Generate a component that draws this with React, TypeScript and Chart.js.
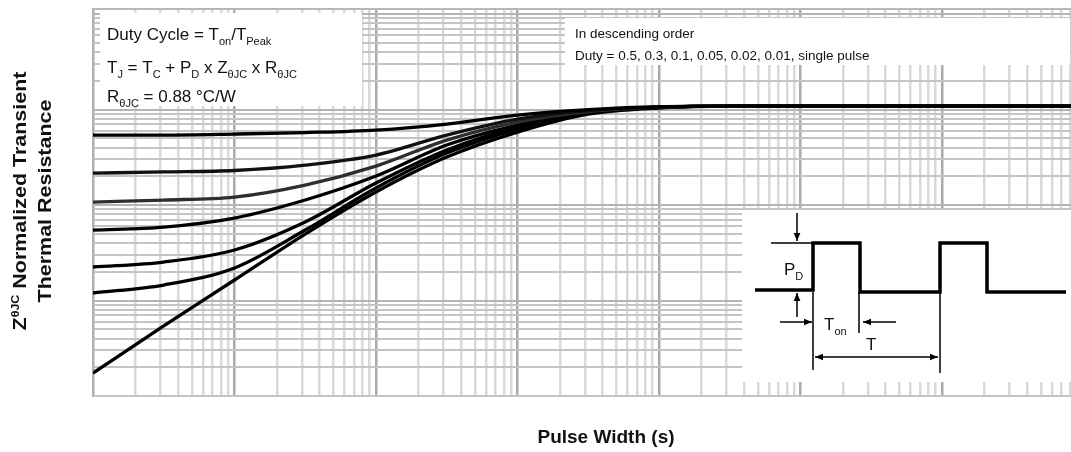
import React, { useEffect, useRef } from "react";
import { Chart, registerables } from "chart.js";

Chart.register(...registerables);

// ---- Data ----
const pulseWidth = [1e-6, 3.16e-6, 1e-5, 3.16e-5, 1e-4, 3.16e-4, 1e-3, 3.16e-3, 1e-2, 3.16e-2, 1e-1, 1, 10];
const duty05 = [0.541, 0.541, 0.554, 0.574, 0.61, 0.705, 0.876, 1.0, 1.075, 1.088, 1.088, 1.088, 1.088];
const duty03 = [0.216, 0.222, 0.23, 0.262, 0.334, 0.541, 0.795, 0.976, 1.062, 1.088, 1.088, 1.088, 1.088];
const duty01 = [0.1075, 0.1128, 0.1213, 0.162, 0.256, 0.479, 0.74, 0.953, 1.062, 1.088, 1.088, 1.088, 1.088];
const duty005 = [0.0547, 0.0588, 0.0731, 0.1128, 0.201, 0.425, 0.688, 0.941, 1.05, 1.088, 1.088, 1.088, 1.088];
const duty002 = [0.02243, 0.0253, 0.0338, 0.0664, 0.17, 0.377, 0.656, 0.93, 1.05, 1.088, 1.088, 1.088, 1.088];
const duty001 = [0.01198, 0.01453, 0.0219, 0.0547, 0.151, 0.35, 0.625, 0.919, 1.05, 1.088, 1.088, 1.088, 1.088];
const singlePulse = [0.00174, 0.00541, 0.0164, 0.0497, 0.137, 0.318, 0.581, 0.897, 1.04, 1.088, 1.088, 1.088, 1.088];

const seriesNames = ["0.5", "0.3", "0.1", "0.05", "0.02", "0.01", "single pulse"];
const seriesValues = [duty05, duty03, duty01, duty005, duty002, duty001, singlePulse];
const seriesColors = ["#000000", "#111111", "#2e2e2e", "#000000", "#000000", "#000000", "#000000"];

const xDecades = [1e-6, 1e-5, 1e-4, 1e-3, 1e-2, 1e-1, 1];
const yDecades = [0.001, 0.01, 0.1, 1, 10];
const tickMultipliers = [1, 2, 3, 4, 5, 6, 7, 8, 9];
const xRange = [1e-6, 8.16];
const yRange = [0.001, 11.3];

const FONT = '"Liberation Sans", Arial, Helvetica, sans-serif';

function buildTicks(decades: number[], min: number, max: number) {
  const out: { value: number }[] = [];
  for (const d of decades) {
    for (const k of tickMultipliers) {
      const v = parseFloat((k * d).toPrecision(6));
      if (v >= min * 0.9999 && v <= max) out.push({ value: v });
    }
  }
  return out;
}

function isDecade(v: number) {
  const l = Math.log10(v);
  return Math.abs(l - Math.round(l)) < 1e-6;
}

type Part = { t: string; sub?: boolean; sup?: boolean; size?: number };

function drawRich(ctx: CanvasRenderingContext2D, x: number, y: number, parts: Part[], size: number, bold = false, subSize?: number) {
  let cx = x;
  for (const p of parts) {
    const small = p.sub || p.sup;
    const fs = p.size ?? (small ? subSize ?? Math.round(size * 0.65) : size);
    ctx.font = `${bold ? "bold " : ""}${fs}px ${FONT}`;
    const dy = p.sub ? size * 0.3 : p.sup ? -size * 0.32 : 0;
    ctx.fillText(p.t, cx, y + dy);
    cx += ctx.measureText(p.t).width;
  }
  return cx - x;
}

function measureRich(ctx: CanvasRenderingContext2D, parts: Part[], size: number, bold = false, subSize?: number) {
  let w = 0;
  for (const p of parts) {
    const small = p.sub || p.sup;
    const fs = p.size ?? (small ? subSize ?? Math.round(size * 0.65) : size);
    ctx.font = `${bold ? "bold " : ""}${fs}px ${FONT}`;
    w += ctx.measureText(p.t).width;
  }
  return w;
}

function arrow(ctx: CanvasRenderingContext2D, x1: number, y1: number, x2: number, y2: number, head = 8, both = false) {
  const ang = Math.atan2(y2 - y1, x2 - x1);
  ctx.beginPath();
  ctx.moveTo(x1, y1);
  ctx.lineTo(x2, y2);
  ctx.stroke();
  const tri = (x: number, y: number, a: number) => {
    ctx.beginPath();
    ctx.moveTo(x, y);
    ctx.lineTo(x - head * Math.cos(a) + head * 0.42 * Math.sin(a), y - head * Math.sin(a) - head * 0.42 * Math.cos(a));
    ctx.lineTo(x - head * Math.cos(a) - head * 0.42 * Math.sin(a), y - head * Math.sin(a) + head * 0.42 * Math.cos(a));
    ctx.closePath();
    ctx.fill();
  };
  tri(x2, y2, ang);
  if (both) tri(x1, y1, ang + Math.PI);
}

const overlayPlugin = {
  id: "overlay",
  afterDatasetsDraw(chart: any) {
    const ctx: CanvasRenderingContext2D = chart.ctx;
    const a = chart.chartArea;
    ctx.save();
    // top border
    ctx.strokeStyle = "#b8b8b8";
    ctx.lineWidth = 2;
    ctx.beginPath();
    ctx.moveTo(a.left, a.top);
    ctx.lineTo(a.right, a.top);
    ctx.stroke();

    // white boxes
    ctx.fillStyle = "#ffffff";
    ctx.fillRect(a.left + 7, a.top + 4, 262, 93);
    ctx.fillRect(565, 18, 505, 47);
    ctx.fillRect(742, 210, 329, 172);

    ctx.fillStyle = "#111111";
    ctx.textBaseline = "alphabetic";
    ctx.textAlign = "left";
    // box 1
    const tx = a.left + 14;
    drawRich(ctx, tx, 40, [{ t: "Duty Cycle = T" }, { t: "on", sub: true }, { t: "/T" }, { t: "Peak", sub: true }], 17, false, 11);
    drawRich(ctx, tx, 73, [
      { t: "T" }, { t: "J", sub: true }, { t: " = T" }, { t: "C", sub: true }, { t: " + P" }, { t: "D", sub: true },
      { t: " x Z" }, { t: "θJC", sub: true }, { t: " x R" }, { t: "θJC", sub: true },
    ], 17, false, 11);
    drawRich(ctx, tx, 102, [{ t: "R" }, { t: "θJC", sub: true }, { t: " = 0.88 °C/W" }], 17, false, 11);

    // box 2
    ctx.font = `13.5px ${FONT}`;
    ctx.fillText("In descending order", 575, 38);
    ctx.fillText("Duty = " + seriesNames.join(", "), 575, 60);

    // pulse diagram
    ctx.strokeStyle = "#000";
    ctx.fillStyle = "#000";
    ctx.lineWidth = 3.5;
    ctx.lineJoin = "miter";
    ctx.beginPath();
    ctx.moveTo(755, 290);
    ctx.lineTo(813, 290);
    ctx.lineTo(813, 243);
    ctx.lineTo(860, 243);
    ctx.lineTo(860, 292);
    ctx.lineTo(940, 292);
    ctx.lineTo(940, 243);
    ctx.lineTo(987, 243);
    ctx.lineTo(987, 292);
    ctx.lineTo(1066, 292);
    ctx.stroke();

    ctx.lineWidth = 1.5;
    ctx.beginPath();
    ctx.moveTo(771, 243);
    ctx.lineTo(812, 243);
    ctx.moveTo(813, 292);
    ctx.lineTo(813, 370);
    ctx.moveTo(859, 292);
    ctx.lineTo(859, 333);
    ctx.moveTo(940, 292);
    ctx.lineTo(940, 373);
    ctx.stroke();

    arrow(ctx, 797, 213, 797, 241, 8);
    arrow(ctx, 797, 317, 797, 293, 8);
    arrow(ctx, 780, 322, 812, 322, 8);
    arrow(ctx, 896, 322, 863, 322, 8);
    arrow(ctx, 815, 357, 938, 357, 8, true);

    ctx.fillStyle = "#111";
    drawRich(ctx, 784, 275, [{ t: "P" }, { t: "D", sub: true }], 17, false, 11);
    drawRich(ctx, 824, 330, [{ t: "T" }, { t: "on", sub: true }], 17, false, 11);
    ctx.font = `17px ${FONT}`;
    ctx.fillText("T", 866, 350);

    ctx.restore();
  },
  afterDraw(chart: any) {
    const ctx: CanvasRenderingContext2D = chart.ctx;
    ctx.save();
    ctx.fillStyle = "#111";
    // x title
    ctx.font = `bold 19px ${FONT}`;
    ctx.textAlign = "center";
    ctx.fillText("Pulse Width (s)", 606, 443);
    // y title (two lines, rotated)
    ctx.textAlign = "left";
    const line1: Part[] = [{ t: "Z" }, { t: "θJC", sup: true, size: 11 }, { t: " Normalized Transient" }];
    const line2: Part[] = [{ t: "Thermal Resistance" }];
    const cy = 201;
    const stretch = 1.13;
    ctx.save();
    ctx.translate(25.5, cy);
    ctx.rotate(-Math.PI / 2);
    ctx.scale(stretch, 1);
    const w1 = measureRich(ctx, line1, 19, true);
    drawRich(ctx, -w1 / 2, 0, line1, 19, true);
    ctx.restore();
    ctx.save();
    ctx.translate(51, cy);
    ctx.rotate(-Math.PI / 2);
    ctx.scale(stretch, 1);
    const w2 = measureRich(ctx, line2, 19, true);
    drawRich(ctx, -w2 / 2, 0, line2, 19, true);
    ctx.restore();
    ctx.restore();
  },
};

export default function App() {
  const ref = useRef<HTMLCanvasElement | null>(null);
  useEffect(() => {
    if (!ref.current) return;
    const xTicks = buildTicks(xDecades, xRange[0], xRange[1]);
    const yTicks = buildTicks(yDecades, yRange[0], yRange[1]);
    const chart = new Chart(ref.current, {
      type: "line",
      data: {
        datasets: seriesValues.map((vals, i) => ({
          label: seriesNames[i],
          data: pulseWidth.map((x, j) => ({ x, y: vals[j] })),
          borderColor: seriesColors[i],
          borderWidth: 3.3,
          pointRadius: 0,
          fill: false,
          cubicInterpolationMode: "monotone" as const,
        })),
      },
      options: {
        animation: false,
        responsive: true,
        maintainAspectRatio: false,
        devicePixelRatio: 1,
        layout: { padding: { left: 93, top: 9, right: 0, bottom: 56 } },
        plugins: { legend: { display: false }, tooltip: { enabled: false } },
        events: [],
        scales: {
          x: {
            type: "logarithmic",
            min: xRange[0],
            max: xRange[1],
            afterBuildTicks: (scale: any) => {
              scale.ticks = xTicks.map((t) => ({ ...t }));
            },
            ticks: { display: false, autoSkip: false },
            grid: {
              drawTicks: false,
              color: (c: any) => (c.tick && isDecade(c.tick.value) ? "#aca9a9" : "#d9d9d9"),
              lineWidth: 2.5,
            },
            border: { display: true, color: "#c4c4c4", width: 2 },
          },
          y: {
            type: "logarithmic",
            min: yRange[0],
            max: yRange[1],
            afterBuildTicks: (scale: any) => {
              scale.ticks = yTicks.map((t) => ({ ...t }));
            },
            ticks: { display: false, autoSkip: false },
            grid: {
              drawTicks: false,
              color: (c: any) => (c.tick && isDecade(c.tick.value) ? "#b4b4b4" : "#c4c4c4"),
              lineWidth: 2,
            },
            border: { display: true, color: "#b0b0b0", width: 2 },
          },
        },
      },
      plugins: [overlayPlugin],
    });
    return () => chart.destroy();
  }, []);
  return (
    <div style={{ position: "fixed", left: 0, top: 0, width: 1071, height: 452, background: "#fff" }}>
      <canvas ref={ref} />
    </div>
  );
}
